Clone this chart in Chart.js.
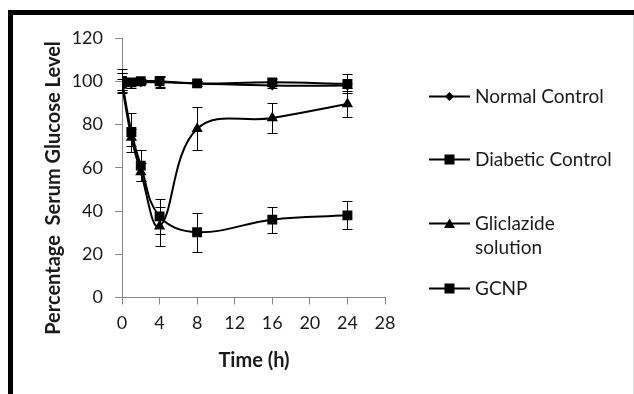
<!DOCTYPE html>
<html>
<head>
<meta charset="utf-8">
<script src="https://cdn.jsdelivr.net/npm/chart.js@4/dist/chart.umd.min.js"></script>
<style>
	body { margin: 0; background: #fff; font-family: Lato, sans-serif; color: #1a1a1a; }
	#wrap { position: relative; width: 634px; height: 394px; overflow: hidden; }
	#chart { position: absolute; left: 0; top: 0; }
	#frame { position: absolute; left: 8px; top: 10px; width: 640px; height: 400px;
		border-top: 5px solid #000; border-left: 5px solid #000; box-sizing: border-box; }
	#edge { position: absolute; left: 633px; top: 15px; width: 1px; height: 380px; background: #ddd; }
	.title { position: absolute; font-weight: bold; font-size: 20px; white-space: pre; }
	#y-title { left: 52px; top: 188px; transform: translate(-50%, -50%) rotate(-90deg); }
	#x-title { left: 254px; top: 359px; transform: translate(-50%, -50%); }
	.legend-item { position: absolute; left: 429px; font-size: 19px; line-height: 24px; }
	.legend-item svg { position: absolute; left: 0; top: 5px; }
	.legend-item span { position: absolute; left: 46px; top: -3px; white-space: pre; }
</style>
</head>
<body>
<div id="wrap">
	<canvas id="chart" width="634" height="394"></canvas>
	<div id="frame"></div>
	<div id="edge"></div>
	<div class="title" id="y-title">Percentage  Serum Glucose Level</div>
	<div class="title" id="x-title">Time (h)</div>
	<div id="legend"></div>
</div>
<script>
const times = [0, 1, 2, 4, 8, 16, 24];

const seriesNames = ["Normal Control", "Diabetic Control", "Gliclazide\nsolution", "GCNP"];

const normalControl = [100, 99, 99.5, 99.5, 99, 98, 98];
const normalControlErr = [5.5, 2, 1, 2.5, 1, 1, 1];

const diabeticControl = [100, 99.5, 100, 100, 99, 99.5, 98.8];
const diabeticControlErr = [4, 1, 1, 2.5, 1, 1.5, 4.4];

const gliclazideSolution = [98, 74, 58, 33, 78, 83, 89.5];
const gliclazideSolutionErr = [3, 4, 4, 9, 10, 7, 6];

const gcnp = [100, 76.5, 61, 37.5, 30.2, 36, 38];
const gcnpErr = [4, 9, 7, 8, 9, 6, 6.5];

const yTicks = [0, 20, 40, 60, 80, 100, 120];
const xTicks = [0, 4, 8, 12, 16, 20, 24, 28];

function toPoints(values) {
	return values.map((v, i) => ({ x: times[i], y: v }));
}

function makeSeries(label, values, errors, pointStyle, radius) {
	return {
		label,
		data: toPoints(values),
		errors,
		borderColor: "#000",
		backgroundColor: "#000",
		borderWidth: 2,
		pointStyle,
		pointRadius: radius,
		pointBackgroundColor: "#000",
		pointBorderColor: "#000",
		pointBorderWidth: 0,
		tension: 0.4,
		fill: false,
	};
}

const datasets = [
	makeSeries(seriesNames[0], normalControl, normalControlErr, "rectRot", 5),
	makeSeries(seriesNames[1], diabeticControl, diabeticControlErr, "rect", 7),
	makeSeries(seriesNames[2], gliclazideSolution, gliclazideSolutionErr, "triangle", 6.5),
	makeSeries(seriesNames[3], gcnp, gcnpErr, "rect", 7),
];

// error bars drawn with the chart's own scales
const errorBars = {
	id: "errorBars",
	afterDatasetsDraw(chart) {
		const ctx = chart.ctx;
		const xs = chart.scales.x;
		const ys = chart.scales.y;
		ctx.save();
		ctx.strokeStyle = "#000";
		ctx.lineWidth = 1;
		chart.data.datasets.forEach(ds => {
			ds.data.forEach((p, i) => {
				const err = ds.errors[i];
				const px = Math.round(xs.getPixelForValue(p.x)) + 0.5;
				const top = Math.round(ys.getPixelForValue(p.y + err)) + 0.5;
				const bot = Math.round(ys.getPixelForValue(p.y - err)) + 0.5;
				ctx.beginPath();
				ctx.moveTo(px, top);
				ctx.lineTo(px, bot);
				ctx.moveTo(px - 5, top);
				ctx.lineTo(px + 5, top);
				ctx.moveTo(px - 5, bot);
				ctx.lineTo(px + 5, bot);
				ctx.stroke();
			});
		});
		ctx.restore();
	},
};

const tickFont = { family: "Lato, sans-serif", size: 18 };

new Chart(document.getElementById("chart"), {
	type: "line",
	data: { datasets },
	plugins: [errorBars],
	options: {
		responsive: false,
		animation: false,
		events: [],
		layout: { padding: { top: 38, right: 249, bottom: 0, left: 0 } },
		plugins: { legend: { display: false }, tooltip: { enabled: false } },
		scales: {
			x: {
				type: "linear",
				min: xTicks[0],
				max: xTicks[xTicks.length - 1],
				afterBuildTicks: scale => { scale.ticks = xTicks.map(v => ({ value: v })); },
				afterFit: scale => { scale.height = 96.5; },
				ticks: { font: tickFont, color: "#1a1a1a", padding: 8, maxRotation: 0 },
				grid: { drawOnChartArea: false, drawTicks: true, tickLength: 7, color: "#888" },
				border: { color: "#888", width: 1 },
			},
			y: {
				type: "linear",
				min: yTicks[0],
				max: yTicks[yTicks.length - 1],
				afterBuildTicks: scale => { scale.ticks = yTicks.map(v => ({ value: v })); },
				afterFit: scale => { scale.width = 122; },
				ticks: { font: tickFont, color: "#1a1a1a", padding: 12 },
				grid: { drawOnChartArea: false, drawTicks: true, tickLength: 7, color: "#888" },
				border: { color: "#888", width: 1 },
			},
		},
	},
});

// legend on the right, as in the original figure
const legendEl = document.getElementById("legend");
const legendY = [96, 159, 223, 288];
const markerSvg = [
	'<polygon points="20.5,0 25,4.5 20.5,9 16,4.5" fill="#000"/>',
	'<rect x="15.5" y="-0.5" width="10" height="10" fill="#000"/>',
	'<polygon points="20.5,-0.5 26,9 15,9" fill="#000"/>',
	'<rect x="15.5" y="-0.5" width="10" height="10" fill="#000"/>',
];
seriesNames.forEach((name, i) => {
	const item = document.createElement("div");
	item.className = "legend-item";
	item.style.top = (legendY[i] - 9) + "px";
	item.innerHTML = '<svg width="42" height="10" style="overflow:visible">' +
		'<line x1="0" y1="4.5" x2="41" y2="4.5" stroke="#000" stroke-width="2"/>' +
		markerSvg[i] + "</svg>";
	const text = document.createElement("span");
	text.textContent = name;
	item.appendChild(text);
	legendEl.appendChild(item);
});
</script>
</body>
</html>
